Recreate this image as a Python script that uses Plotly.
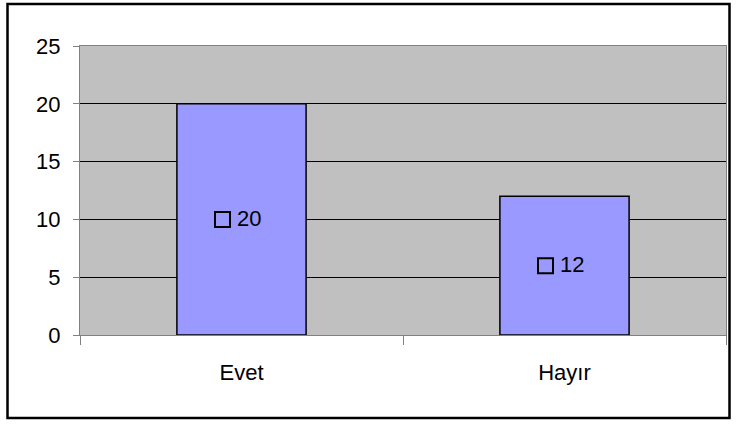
import plotly.graph_objects as go

categories = ["Evet", "Hayır"]
values = [20, 12]
label_text = ["20", "12"]
y_ticks = [0, 5, 10, 15, 20, 25]

W, H = 736, 424
L, R, T, B = 80, 10, 46, 89
pw = W - L - R
ph = H - T - B

fig = go.Figure()
fig.add_trace(go.Bar(
    x=categories, y=values, width=0.4,
    marker=dict(color="#9999FF", line=dict(color="black", width=1.5)),
    hoverinfo="skip", showlegend=False,
))

# data-label legend keys (small open squares) at half-height of each bar
idx = list(range(len(categories)))
key_offset = -19 / (pw / len(categories))
fig.add_trace(go.Scatter(
    x=[i + key_offset for i in idx], y=[v / 2 for v in values],
    xaxis="x2", mode="markers",
    marker=dict(symbol="square-open", size=15, color="black", line=dict(width=2, color="black")),
    hoverinfo="skip", showlegend=False,
))
for i, v, t in zip(idx, values, label_text):
    fig.add_annotation(
        x=i + key_offset, y=v / 2, xref="x2", yref="y", text=t,
        showarrow=False, xanchor="left", yanchor="middle", xshift=12, yshift=1,
        font=dict(family="Liberation Sans, Arial", size=22, color="black"),
    )

# outer chart frame
fig.add_shape(
    type="rect", xref="paper", yref="paper",
    x0=(7.5 - L) / pw, x1=(729.5 - L) / pw,
    y0=(T + ph - 418) / ph, y1=(T + ph - 4) / ph,
    line=dict(color="black", width=2.5), fillcolor="rgba(0,0,0,0)", layer="below",
)

fig.update_layout(
    width=W, height=H,
    margin=dict(l=L, r=R, t=T, b=B),
    paper_bgcolor="white", plot_bgcolor="#C0C0C0",
    font=dict(family="Liberation Sans, Arial", size=22, color="black"),
    bargap=0.6,
    xaxis=dict(
        type="category", tickson="boundaries", ticks="outside", ticklen=9,
        tickcolor="#808080", tickwidth=1, showline=True, linecolor="#808080",
        linewidth=1, mirror=True, showgrid=False, range=[-0.5, 1.5],
        tickfont=dict(size=22), ticklabelstandoff=18,
    ),
    xaxis2=dict(overlaying="x", range=[-0.5, 1.5], visible=False),
    yaxis=dict(
        range=[0, 25], tickvals=y_ticks, ticks="outside", ticklen=6,
        tickcolor="#808080", showline=True, linecolor="#808080", linewidth=1,
        mirror=True, showgrid=True, gridcolor="black", gridwidth=1,
        zeroline=False, tickfont=dict(size=22), ticklabelstandoff=8,
    ),
)

fig.write_html("out.html")
